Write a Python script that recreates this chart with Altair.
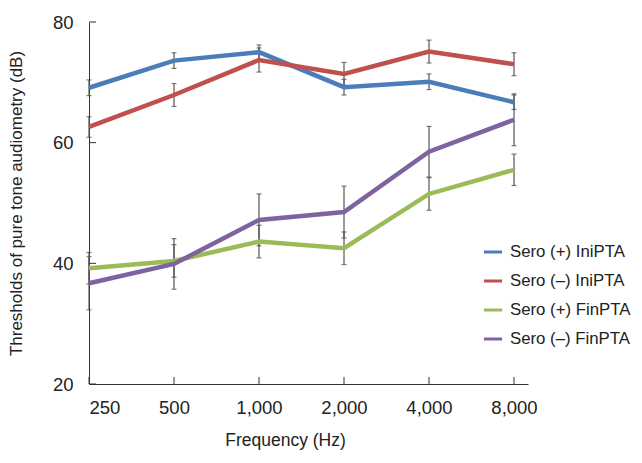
import altair as alt
import pandas as pd

freqs = [250, 500, 1000, 2000, 4000, 8000]
series = ["Sero (+) IniPTA", "Sero (\u2013) IniPTA", "Sero (+) FinPTA", "Sero (\u2013) FinPTA"]
colors = ["#4A7EBB", "#C0504D", "#9BBB59", "#7F63A1"]

sero_pos_ini = [69.1, 73.6, 75.0, 69.2, 70.1, 66.7]
sero_neg_ini = [62.6, 67.9, 73.7, 71.4, 75.1, 73.0]
sero_pos_fin = [39.2, 40.4, 43.6, 42.5, 51.5, 55.5]
sero_neg_fin = [36.7, 39.9, 47.2, 48.5, 58.5, 63.8]

err_pos_ini = [1.3, 1.3, 1.2, 1.3, 1.3, 1.2]
err_neg_ini = [1.7, 1.9, 2.0, 1.9, 1.9, 1.9]
err_pos_fin = [2.6, 2.7, 2.7, 2.7, 2.7, 2.6]
err_neg_fin = [4.4, 4.2, 4.3, 4.3, 4.2, 4.3]

y_ticks = [20, 40, 60, 80]

rows = []
for name, vals, errs in zip(series,
                            [sero_pos_ini, sero_neg_ini, sero_pos_fin, sero_neg_fin],
                            [err_pos_ini, err_neg_ini, err_pos_fin, err_neg_fin]):
    for f, v, e in zip(freqs, vals, errs):
        rows.append({"series": name, "freq": f, "value": v, "lo": v - e, "hi": v + e})
df = pd.DataFrame(rows)

W, H = 439, 362
x_scale = alt.Scale(type="log", base=2, domain=[250, 8967])
y_scale = alt.Scale(domain=[20, 80], nice=False, zero=False)

x_axis = alt.Axis(values=freqs, format=",", title="Frequency (Hz)",
                  labelPadding=14, titlePadding=15, titleX=196, titleFontSize=17.5)
y_axis = alt.Axis(values=y_ticks, title="Thresholds of pure tone audiometry (dB)",
                  labelPadding=16, titlePadding=27)


def X(field):
    return alt.X(field, scale=x_scale, axis=x_axis)


def Y(field):
    return alt.Y(field, scale=y_scale, axis=y_axis)


err = alt.Chart(df).mark_errorbar(ticks={"size": 5, "thickness": 1.2, "color": "#444"},
                                  rule={"strokeWidth": 1.2}, color="#555").encode(
    x=X("freq:Q"),
    y=Y("lo:Q"),
    y2="hi:Q",
    detail="series:N",
)

lines = alt.Chart(df).mark_line(strokeWidth=4.5).encode(
    x=X("freq:Q"),
    y=Y("value:Q"),
    color=alt.Color("series:N", scale=alt.Scale(domain=series, range=colors),
                    sort=series,
                    legend=alt.Legend(title=None, orient="none", legendX=393, legendY=219,
                                      symbolType="stroke", symbolSize=330, symbolStrokeWidth=3,
                                      labelFontSize=16.8, labelFont="Liberation Sans",
                                      labelColor="#222", labelOffset=6, rowPadding=9,
                                      labelLimit=300)),
    order=alt.Order("freq:Q"),
)

ytick_df = pd.DataFrame({"value": y_ticks})
yticks = alt.Chart(ytick_df).mark_rule(color="#333", strokeWidth=1).encode(
    y=Y("value:Q"),
    x=alt.value(0), x2=alt.value(7),
)
xtick_df = pd.DataFrame({"freq": freqs})
xticks = alt.Chart(xtick_df).mark_rule(color="#333", strokeWidth=1).encode(
    x=X("freq:Q"),
    y=alt.value(H), y2=alt.value(H - 7),
)

chart = alt.layer(err, lines, yticks, xticks).properties(
    width=W, height=H,
    autosize=alt.AutoSizeParams(type="none"),
    padding={"left": 81, "top": 14, "right": 106, "bottom": 71},
).configure_view(stroke=None).configure_axis(
    grid=False, ticks=False, domainColor="#333", domainWidth=1,
    labelFont="Liberation Sans", labelFontSize=18.5, labelColor="#222",
    titleFont="Liberation Sans", titleFontSize=17, titleFontWeight="normal", titleColor="#222",
)

chart.save("out.html", embed_options={"renderer": "svg", "actions": False})
